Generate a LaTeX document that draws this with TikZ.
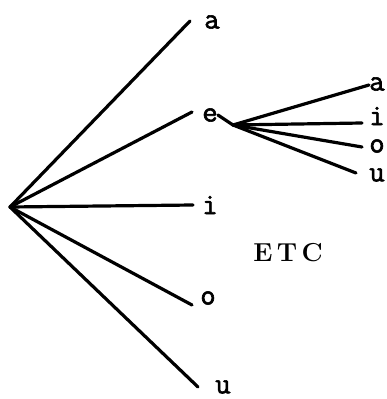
\documentclass[tikz,border=0pt]{standalone}
\usepackage{fontspec}
\newfontfamily\typefont[FakeBold=2]{Latin Modern Mono}
\usepackage{tikz}
\usetikzlibrary{positioning,calc}

\begin{document}
\begin{tikzpicture}[x=1pt, y=-1pt,
  br/.style={line width=3.2pt, line cap=round},
  lbl/.style={font=\typefont\fontsize{30}{30}\selectfont, inner sep=0pt},
  etc/.style={font=\bfseries\fontsize{26}{26}\selectfont, inner sep=0pt}]
\useasboundingbox (0,0) rectangle (386,399);
\coordinate (r) at (10,207);
% first branching
\foreach \n/\x/\y/\lx/\ly in {a/190/21/212/22, e/192/112/210/115, i/193/205/210/205, o/192/305/208/298, u/198/387/223/387}{
  \coordinate (e\n) at (\x,\y);
  \node[lbl] (l\n) at (\lx,\ly) {\n};
  \draw[br] (r) -- (e\n);
}
% second branching after e
\coordinate (s) at (233,125);
\draw[br] (le.east) -- (s);
\foreach \n/\x/\y/\ly in {a/369/85/84, i/362/123/116, o/362/147/146, u/356/173/175}{
  \coordinate (s\n) at (\x,\y);
  \node[lbl] (m\n) at (377,\ly) {\n};
  \draw[br] (s) -- (s\n);
}
\node[etc] (etc) at (288,253) {E\,T\,C};
\end{tikzpicture}
\end{document}
